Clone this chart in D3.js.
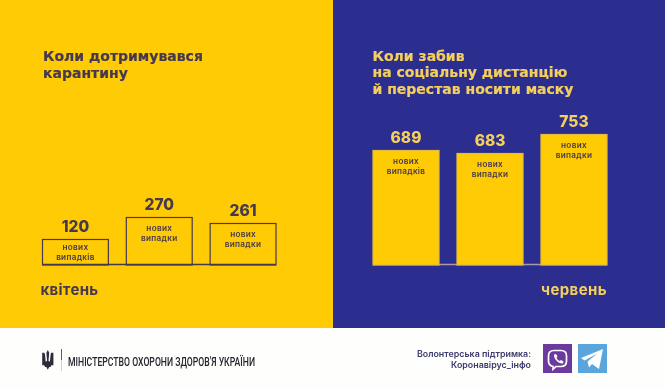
<!DOCTYPE html>
<html>
<head>
<meta charset="utf-8">
<script src="https://cdnjs.cloudflare.com/ajax/libs/d3/7.8.5/d3.min.js"></script>
<style>
    html, body { margin: 0; padding: 0; background: #fff; }
    svg { display: block; filter: blur(0.3px); }
    text { font-family: Inter, "Open Sans", sans-serif; }
</style>
</head>
<body>
<div id="chart"></div>
<script>
const aprilValues = [120, 270, 261];
const juneValues = [689, 683, 753];
const aprilLabels = ["нових випадків", "нових випадки", "нових випадки"];
const juneLabels = ["нових випадків", "нових випадки", "нових випадки"];
const slots = ["a", "b", "c"];
const leftTitle = ["Коли дотримувався", "карантину"];
const rightTitle = ["Коли забив", "на соціальну дистанцію", "й перестав носити маску"];

const yellow = "#ffcb05";
const blue = "#2b2e8f";
const dark = "#45384f";
const pale = "#f5cf5c";

const svg = d3.select("#chart").append("svg")
    .attr("width", 665)
    .attr("height", 388);

svg.append("rect").attr("width", 665).attr("height", 388).attr("fill", "#fefefc");
svg.append("rect").attr("width", 333).attr("height", 328).attr("fill", yellow);
svg.append("rect").attr("x", 333).attr("width", 332).attr("height", 328).attr("fill", blue);

// bars in the picture are not proportional, so the height scale is piecewise
const baseline = 265;
const yScale = d3.scaleLinear()
    .domain([0, 120, 261, 270, 683, 689, 753])
    .range([baseline, 239.5, 223.5, 217.5, 153.5, 150.5, 134.5]);

function title(lines, x, y, color) {
    svg.append("g").selectAll("text")
        .data(lines)
        .enter().append("text")
        .attr("x", x)
        .attr("y", (d, i) => y + i * 16.7)
        .attr("fill", color)
        .attr("stroke", color)
        .attr("stroke-width", 0.2)
        .attr("font-size", 14)
        .attr("font-weight", 700)
        .style("font-family", "'DejaVu Sans', sans-serif")
        .text((d) => d);
}

function panel(values, labels, range, opts) {
    const xScale = d3.scaleBand()
        .domain(slots)
        .range(range)
        .paddingInner(0.214);
    const data = values.map((v, i) => ({ slot: slots[i], value: v, label: labels[i] }));
    const g = svg.append("g");
    const noteY = (d) => yScale(d.value) + Math.min(13, (baseline - yScale(d.value)) * 0.42);

    g.append("line")
        .attr("x1", range[0])
        .attr("x2", range[1])
        .attr("y1", baseline - 0.5)
        .attr("y2", baseline - 0.5)
        .attr("stroke", opts.axis)
        .attr("stroke-width", 1.3);

    g.selectAll("rect.bar")
        .data(data)
        .enter().append("rect")
        .attr("class", "bar")
        .attr("x", (d) => xScale(d.slot))
        .attr("y", (d) => yScale(d.value))
        .attr("width", xScale.bandwidth())
        .attr("height", (d) => baseline - yScale(d.value))
        .attr("fill", opts.fill)
        .attr("stroke", opts.stroke)
        .attr("stroke-width", 1.2);

    g.selectAll("text.value")
        .data(data)
        .enter().append("text")
        .attr("class", "value")
        .attr("x", (d) => xScale(d.slot) + xScale.bandwidth() / 2)
        .attr("y", (d) => yScale(d.value) - 8)
        .attr("text-anchor", "middle")
        .attr("fill", opts.valueColor)
        .attr("font-size", 15.5)
        .attr("font-weight", 800)
        .text((d) => d.value);

    [0, 1].forEach((line) => {
        g.selectAll("text.note" + line)
            .data(data)
            .enter().append("text")
            .attr("class", "note" + line)
            .attr("x", (d) => xScale(d.slot) + xScale.bandwidth() / 2)
            .attr("y", (d) => noteY(d) + line * 10)
            .attr("text-anchor", "middle")
            .attr("fill", dark)
            .attr("font-size", 8.2)
            .attr("font-weight", 600)
            .attr("letter-spacing", 0.3)
            .text((d) => d.label.split(" ")[line]);
    });
}

title(leftTitle, 43, 61, dark);
title(rightTitle, 372.5, 60.7, pale);

panel(aprilValues, aprilLabels, [42.5, 276], {
    fill: "none", stroke: dark, axis: dark, valueColor: dark
});
panel(juneValues, juneLabels, [373, 607], {
    fill: yellow, stroke: "#e3bd3a", axis: "#a79ab0", valueColor: pale
});

svg.append("text").attr("x", 40.5).attr("y", 295)
    .attr("fill", dark).attr("font-size", 15).attr("font-weight", 700)
    .attr("letter-spacing", 0.3).text("квітень");
svg.append("text").attr("x", 541).attr("y", 295)
    .attr("fill", pale).attr("font-size", 15).attr("font-weight", 700)
    .attr("letter-spacing", 0.4).text("червень");

// footer
svg.append("path")
    .attr("fill", "#2f2a3a")
    .attr("transform", "translate(47.8,350) scale(0.7,0.9) translate(-48,-350)")
    .attr("d", "M48 350l2 3-1 9 2 1 1-8 1-2h3v14h-3l-1 2-2 0 -2 3-2-3-2 0-1-2h-3v-14h3l1 2 1 8 2-1-1-9z");
svg.append("line").attr("x1", 61.5).attr("x2", 61.5).attr("y1", 349).attr("y2", 360)
    .attr("stroke", "#4a5aa0").attr("stroke-width", 1);
svg.append("line").attr("x1", 61.5).attr("x2", 61.5).attr("y1", 360).attr("y2", 371)
    .attr("stroke", "#f3d56b").attr("stroke-width", 1);
svg.append("text").attr("x", 68).attr("y", 366)
    .attr("fill", "#26242e")
    .attr("font-size", 13.5)
    .attr("font-weight", 500)
    .attr("textLength", 187)
    .attr("lengthAdjust", "spacingAndGlyphs")
    .style("font-family", "Roboto, sans-serif")
    .text("МІНІСТЕРСТВО ОХОРОНИ ЗДОРОВ'Я УКРАЇНИ");

svg.append("text").attr("x", 531).attr("y", 357)
    .attr("text-anchor", "end").attr("fill", "#3b3a6e")
    .attr("font-size", 8.9).attr("font-weight", 600).text("Волонтерська підтримка:");
svg.append("text").attr("x", 531).attr("y", 368)
    .attr("text-anchor", "end").attr("fill", "#3b3a6e")
    .attr("font-size", 8.9).attr("font-weight", 600).text("Коронавірус_інфо");

// viber
svg.append("rect").attr("x", 543).attr("y", 344).attr("width", 29).attr("height", 29).attr("fill", "#6c3a9f");
svg.append("path")
    .attr("fill", "none").attr("stroke", "#fff").attr("stroke-width", 1.7)
    .attr("d", "M553 366.500c-3-.6-4.500-2.500-4.500-5.500v-5c0-3.500 2-5.500 5.500-5.500h7c3.500 0 5.500 2 5.500 5.500v5c0 3.500-2 5.500-5.500 5.500h-5l-3 2.800z");
svg.append("path")
    .attr("fill", "#fff")
    .attr("d", "M554 354.500l2-.5 1.500 2.500-1 1.200c.7 1.500 1.800 2.600 3.300 3.300l1.200-1 2.500 1.500-.5 2c-4.500.5-9.500-4.500-9-9z");
// telegram
svg.append("rect").attr("x", 578).attr("y", 344).attr("width", 29).attr("height", 29).attr("fill", "#5aa5dc");
svg.append("path")
    .attr("fill", "#fff")
    .attr("d", "M581 358l22-9-4 20-7-5-3 3.500-1.500-6 10-8-13 7z");
</script>
</body>
</html>
